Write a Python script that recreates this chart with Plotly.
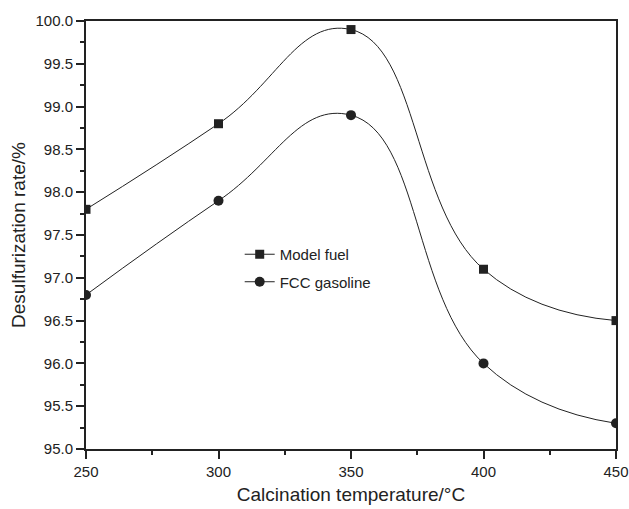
import plotly.graph_objects as go

temps = [250, 300, 350, 400, 450]
model_fuel = [97.8, 98.8, 99.9, 97.1, 96.5]
fcc_gasoline = [96.8, 97.9, 98.9, 96.0, 95.3]
y_ticks = [95.0, 95.5, 96.0, 96.5, 97.0, 97.5, 98.0, 98.5, 99.0, 99.5, 100.0]

INK = "#222222"
FONT = "Liberation Sans, Arial"

fig = go.Figure()
fig.add_trace(go.Scatter(x=temps, y=model_fuel, name="Model fuel", mode="lines+markers", legendgroup="a",
                         line=dict(shape="spline", smoothing=1.3, color=INK, width=1),
                         marker=dict(symbol="square", size=9, color=INK), cliponaxis=True))
fig.add_trace(go.Scatter(x=temps, y=fcc_gasoline, name="FCC gasoline", mode="lines+markers", legendgroup="b",
                         line=dict(shape="spline", smoothing=1.3, color=INK, width=1),
                         marker=dict(symbol="circle", size=10, color=INK), cliponaxis=True))

axis_common = dict(showline=True, linecolor=INK, linewidth=2, mirror=True,
                   ticks="outside", ticklen=8, tickwidth=2, tickcolor=INK,
                   showgrid=False, zeroline=False, automargin=False,
                   tickfont=dict(family=FONT, size=15, color=INK))

fig.update_xaxes(range=[250, 450], tickvals=temps, ticktext=[str(t) for t in temps],
                 minor=dict(ticks="outside", ticklen=4, tickwidth=2, tickcolor=INK, dtick=25, tick0=250),
                 title=dict(text="Calcination temperature/°C", font=dict(family=FONT, size=19, color=INK), standoff=9),
                 **axis_common)
fig.update_yaxes(range=[95, 100], tickvals=y_ticks, ticktext=[f"{v:.1f}" for v in y_ticks],
                 minor=dict(ticks="outside", ticklen=4, tickwidth=2, tickcolor=INK, dtick=0.25, tick0=95),
                 title=dict(text="Desulfurization rate/%", font=dict(family=FONT, size=19, color=INK), standoff=5),
                 **axis_common)

fig.update_layout(width=629, height=509, margin=dict(l=86, r=13, t=21, b=60, autoexpand=False),
                  plot_bgcolor="white", paper_bgcolor="white",
                  legend=dict(x=0.29, y=0.493, xanchor="left", yanchor="top", bgcolor="rgba(0,0,0,0)",
                              font=dict(family=FONT, size=15, color=INK),
                              tracegroupgap=5))
fig.write_html("out.html", config={"displayModeBar": False},
               post_script="document.body.style.margin='0';")
